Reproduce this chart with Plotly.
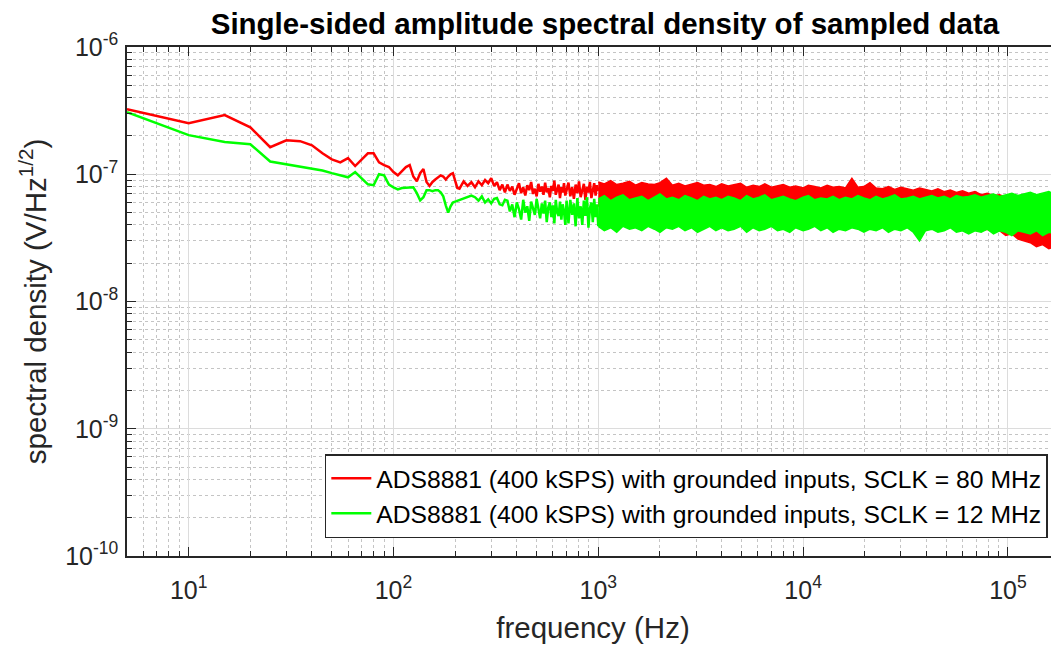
import math
import plotly.graph_objects as go

UNIT = 1e-8  # values below are in units of 1e-8 V/Hz^(1/2)

# ---- low-frequency part (FFT bins, Hz) ----
freq_line = [5, 10, 15, 20, 25, 30, 35, 40, 45, 50, 55, 60, 65, 70, 75, 80, 85, 90, 95, 100,
             105, 110, 115, 120, 125, 130, 135, 140, 145, 150, 155, 160, 165, 170, 175, 180, 185, 190, 195, 200,
             205, 210, 215, 220, 230, 240, 250, 260, 270, 280, 290, 300, 310, 320, 330, 340, 350,
             360, 370, 380, 390, 400, 410, 420, 430, 440, 450, 460, 470, 480, 490, 500, 510, 520,
             530, 540, 550, 560, 570, 580, 590, 600, 610, 620, 630, 640, 650, 660, 670, 680, 690, 700,
             715, 730, 745, 760, 775, 790, 805, 820, 835, 850, 865, 880, 895, 910, 925, 940, 955, 970, 985, 1000]

red_line = [32.5, 25.2, 29.2, 23.4, 16.3, 18.5, 18.2, 16.9, 14.6, 13.1, 12.4, 13.4, 11.6, 13.0, 14.6, 14.6, 12.4, 11.8, 11.4, 10.4,
            9.8, 10.6, 11.4, 11.8, 9.6, 8.8, 10.2, 11.0, 8.7, 8.1, 8.7, 9.1, 9.5, 9.8, 9.6, 9.1, 9.6, 10.0, 10.2, 9.0,
            7.8, 7.7, 8.3, 8.8, 8.1, 8.65, 7.9, 8.8, 8.2, 9.0, 8.5, 9.3, 8.1, 8.65, 7.5, 8.3, 7.2,
            8.3, 7.4, 8.0, 6.9, 7.6, 8.5, 7.1, 7.9, 6.8, 8.2, 7.5, 8.7, 7.0, 7.7, 6.7, 8.4, 7.3,
            8.0, 6.9, 8.6, 7.2, 7.8, 6.6, 8.1, 7.4, 8.9, 6.9, 7.6, 8.3, 6.5, 7.9, 7.2, 8.5, 6.8, 7.7,
            8.6, 6.7, 7.9, 6.4, 8.3, 7.1, 8.8, 6.6, 7.6, 8.4, 6.3, 8.0, 7.2, 8.7, 6.5, 7.8, 8.5, 6.8, 8.2, 7.4]

green_line = [30.8, 20.3, 17.9, 17.2, 12.6, 12.0, 11.4, 11.1, 10.7, 10.2, 9.8, 9.46, 10.4, 9.3, 8.34, 8.2, 10.0, 9.8, 8.3, 7.9,
              7.6, 7.8, 7.8, 7.8, 7.9, 7.1, 6.24, 6.6, 7.5, 7.5, 7.35, 7.5, 7.5, 7.2, 6.7, 5.7, 5.0, 5.6, 6.0, 6.1,
              6.2, 6.24, 6.4, 6.5, 6.7, 6.8, 6.6, 6.2, 6.7, 6.0, 6.35, 5.9, 6.4, 6.5, 5.8, 5.7, 6.3,
              6.2, 5.1, 5.8, 4.6, 6.0, 5.3, 4.4, 6.3, 5.0, 5.6, 4.3, 6.1, 5.4, 4.8, 6.4, 5.2, 4.5,
              5.9, 4.9, 6.2, 4.2, 5.5, 6.0, 4.6, 5.7, 4.1, 6.3, 5.0, 4.7, 6.1, 4.4, 5.8, 5.1, 4.0, 6.2,
              4.1, 6.3, 4.8, 5.9, 3.9, 6.5, 4.5, 5.6, 4.0, 6.2, 4.7, 6.6, 3.8, 5.4, 6.0, 4.2, 6.4, 4.6, 5.8, 3.9]

# ---- high-frequency noise band: upper / lower envelope ----
freq_band = [1000, 1070, 1150, 1230, 1320, 1420, 1520, 1630, 1750, 1880,
             2000, 2150, 2300, 2470, 2650, 2850, 3050, 3270, 3500, 3750,
             4000, 4300, 4600, 4950, 5300, 5700, 6100, 6500, 7000, 7500,
             8000, 8600, 9200, 10000, 10600, 11400, 12200, 13100, 14000, 15000,
             16100, 17300, 18500, 19800, 21200, 22700, 24400, 26100, 28000, 30000,
             32200, 34500, 37000, 39600, 42500, 45500, 48800, 52300, 56000, 60000,
             64300, 69000, 74000, 79200, 85000, 91000, 97500, 104500, 112000, 120000,
             128600, 137800, 147700, 158300, 169700, 182000]

red_hi = [8.7, 8.4, 8.9, 8.3, 8.5, 8.8, 8.2, 8.6, 8.4, 8.3,
          8.6, 9.3, 8.2, 8.5, 8.1, 8.4, 8.6, 8.2, 8.3, 8.0,
          8.4, 8.1, 8.3, 8.5, 7.9, 8.2, 8.0, 8.4, 7.9, 8.1,
          8.3, 7.9, 8.1, 7.8, 8.2, 8.0, 7.8, 8.2, 7.9, 8.0,
          7.8, 9.3, 7.9, 8.0, 8.6, 7.8, 7.7, 8.0, 7.6, 7.9,
          7.7, 7.5, 7.8, 7.6, 7.4, 7.7, 7.3, 7.5, 7.2, 7.4,
          7.1, 7.3, 6.9, 7.1, 6.8, 6.9, 6.6, 6.5, 6.3, 6.2,
          6.0, 5.9, 5.8, 5.9, 5.7, 5.8]
red_lo = [5.6, 5.8, 5.5, 5.9, 5.6, 5.8, 5.5, 5.7, 5.6, 5.8,
          5.5, 5.7, 5.4, 5.6, 5.5, 5.7, 5.4, 5.6, 5.5, 5.6,
          5.3, 5.5, 5.4, 5.6, 5.3, 5.5, 5.3, 5.4, 5.2, 5.4,
          5.2, 5.3, 5.1, 5.3, 5.1, 5.2, 5.0, 5.2, 4.9, 5.1,
          4.9, 5.0, 4.8, 5.0, 4.7, 4.9, 4.6, 4.7, 4.5, 4.6,
          4.4, 4.5, 4.3, 4.4, 4.2, 4.2, 4.0, 4.1, 3.9, 3.8,
          3.7, 3.8, 3.6, 3.7, 3.5, 3.6, 3.3, 3.4, 3.1, 3.0,
          2.9, 2.7, 2.8, 2.6, 2.7, 2.6]
green_hi = [6.4, 6.8, 6.2, 6.6, 6.9, 6.3, 6.5, 6.7, 6.2, 6.6,
            7.0, 6.4, 6.6, 6.3, 6.8, 6.5, 6.2, 6.7, 6.4, 6.6,
            6.3, 6.7, 6.5, 6.2, 6.8, 6.4, 6.6, 6.9, 6.3, 6.5,
            6.7, 6.4, 6.2, 6.6, 6.8, 6.3, 6.5, 6.4, 6.7, 6.3,
            6.6, 6.4, 6.8, 6.5, 6.3, 6.7, 6.4, 6.6, 6.9, 6.4,
            6.5, 6.7, 6.4, 6.6, 6.8, 6.5, 6.7, 6.4, 6.8, 6.6,
            6.7, 6.9, 6.6, 6.8, 7.0, 6.7, 6.9, 7.1, 6.8, 7.0,
            7.2, 6.9, 7.1, 7.3, 7.0, 7.2]
green_lo = [3.9, 3.6, 3.8, 3.5, 3.9, 3.7, 3.8, 3.6, 3.9, 3.7,
            3.5, 3.8, 3.7, 3.9, 3.6, 3.8, 3.5, 3.7, 3.9, 3.6,
            3.8, 3.6, 3.7, 3.9, 3.5, 3.8, 3.6, 3.7, 3.9, 3.6,
            3.7, 3.5, 3.8, 3.6, 3.7, 3.9, 3.6, 3.8, 3.5, 3.7,
            3.6, 3.8, 3.7, 3.5, 3.7, 3.6, 3.8, 3.5, 3.7, 3.6,
            3.8, 3.5, 3.0, 3.6, 3.7, 3.5, 3.6, 3.8, 3.5, 3.6,
            3.4, 3.6, 3.5, 3.7, 3.4, 3.6, 3.5, 3.3, 3.6, 3.5,
            3.4, 3.6, 3.3, 3.5, 3.4, 3.6]

series_names = ["ADS8881 (400 kSPS) with grounded inputs, SCLK = 80 MHz",
                "ADS8881 (400 kSPS) with grounded inputs, SCLK = 12 MHz"]
series_colors = ["#ff0000", "#00ff00"]

x_tick_vals = [1e1, 1e2, 1e3, 1e4, 1e5]
x_tick_text = ["10<sup>1</sup>", "10<sup>2</sup>", "10<sup>3</sup>", "10<sup>4</sup>", "10<sup>5</sup>"]
y_tick_vals = [1e-10, 1e-9, 1e-8, 1e-7, 1e-6]
y_tick_text = ["10<sup>-10</sup>", "10<sup>-9</sup>", "10<sup>-8</sup>", "10<sup>-7</sup>", "10<sup>-6</sup>"]

x_min, x_max = 5, 1.775e5
y_min, y_max = 1e-10, 1e-6

x_minor = [m * 10 ** e for e in range(0, 6) for m in range(2, 10)]
y_minor = [m * 10.0 ** e for e in range(-10, -6) for m in range(2, 10)]

fig = go.Figure()
for name, color, vline, hi, lo in [
        (series_names[0], series_colors[0], red_line, red_hi, red_lo),
        (series_names[1], series_colors[1], green_line, green_hi, green_lo)]:
    fig.add_trace(go.Scatter(x=freq_line, y=[v * UNIT for v in vline], mode="lines",
                             line=dict(color=color, width=2.5), name=name))
    fig.add_trace(go.Scatter(x=freq_band + freq_band[::-1],
                             y=[v * UNIT for v in hi] + [v * UNIT for v in lo[::-1]],
                             mode="lines", fill="toself", fillcolor=color,
                             line=dict(color=color, width=1.5), showlegend=False, hoverinfo="skip"))

axis_col = "#262626"
common = dict(type="log", showline=True, linecolor=axis_col, linewidth=1.5, automargin=False,
              ticks="inside", ticklen=9, tickwidth=1.3, tickcolor=axis_col,
              showgrid=True, gridcolor="#dcdcdc", gridwidth=1.2, zeroline=False,
              tickfont=dict(size=25, color=axis_col), tickmode="array")
minor_common = dict(tickmode="array", ticks="inside", ticklen=5, tickcolor=axis_col, tickwidth=1.2,
                    showgrid=True, gridcolor="#c4c4c4", griddash="dot", gridwidth=1)

fig.update_xaxes(**common, range=[math.log10(x_min), math.log10(x_max)],
                 tickvals=x_tick_vals, ticktext=x_tick_text, mirror="ticks", ticklabelstandoff=11,
                 minor=dict(tickvals=x_minor, **minor_common),
                 title=dict(text="frequency (Hz)", font=dict(size=29.5, color=axis_col), standoff=15))
fig.update_yaxes(**common, range=[math.log10(y_min), math.log10(y_max)],
                 tickvals=y_tick_vals, ticktext=y_tick_text, ticklabelstandoff=2,
                 minor=dict(tickvals=y_minor, **minor_common),
                 title=dict(text="spectral density (V/Hz<sup>1/2</sup>)", font=dict(size=29.5, color=axis_col), standoff=10))

# the page body adds an 8 px offset, so the figure is sized to end at the window edge
fig.update_layout(
    width=1051, height=638,
    margin=dict(l=119, r=0, t=39, b=90, autoexpand=False),
    paper_bgcolor="white", plot_bgcolor="white",
    font=dict(family="Liberation Sans, Arial, sans-serif", color=axis_col),
    title=dict(text="<b>Single-sided amplitude spectral density of sampled data</b>",
               xref="container", x=0.568, xanchor="center", y=0.975, yanchor="middle",
               font=dict(size=29.5, color="black")),
    legend=dict(x=0.988, xanchor="right", y=0.035, yanchor="bottom",
                bgcolor="white", bordercolor=axis_col, borderwidth=1.5,
                font=dict(size=24.7, color="black"), itemwidth=40, tracegroupgap=0),
    showlegend=True,
)

fig.write_html("out.html")
